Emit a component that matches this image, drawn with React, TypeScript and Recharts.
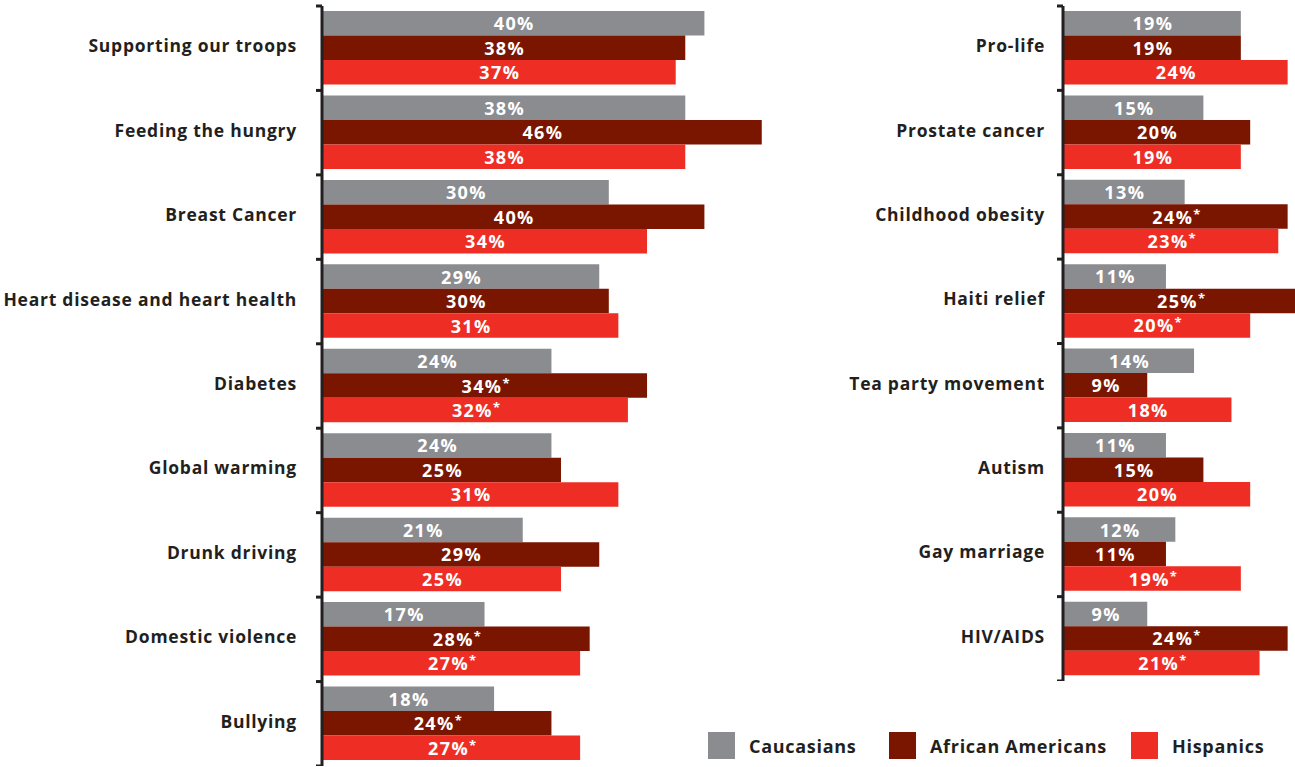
import { Bar, BarChart, LabelList, XAxis, YAxis } from "recharts";

const leftCategories = [
  "Supporting our troops",
  "Feeding the hungry",
  "Breast Cancer",
  "Heart disease and heart health",
  "Diabetes",
  "Global warming",
  "Drunk driving",
  "Domestic violence",
  "Bullying",
];
const leftCaucasians = [40, 38, 30, 29, 24, 24, 21, 17, 18];
const leftAfricanAmericans = [38, 46, 40, 30, 34, 25, 29, 28, 24];
const leftHispanics = [37, 38, 34, 31, 32, 31, 25, 27, 27];
// significant difference markers (*)
const leftAfricanAmericansSig = [false, false, false, false, true, false, false, true, true];
const leftHispanicsSig = [false, false, false, false, true, false, false, true, true];

const rightCategories = [
  "Pro-life",
  "Prostate cancer",
  "Childhood obesity",
  "Haiti relief",
  "Tea party movement",
  "Autism",
  "Gay marriage",
  "HIV/AIDS",
];
const rightCaucasians = [19, 15, 13, 11, 14, 11, 12, 9];
const rightAfricanAmericans = [19, 20, 24, 25, 9, 15, 11, 24];
const rightHispanics = [24, 19, 23, 20, 18, 20, 19, 21];
const rightAfricanAmericansSig = [false, false, true, true, false, false, false, true];
const rightHispanicsSig = [false, false, true, true, false, false, true, true];

const seriesNames = ["Caucasians", "African Americans", "Hispanics"];
const seriesColors = ["#8b8c90", "#7a1500", "#ee2e24"];

const FONT = "'Open Sans', sans-serif";
const DARK = "#231f20";

const buildRows = (
  cats: string[],
  a: number[],
  b: number[],
  c: number[]
) =>
  cats.map((name, i) => ({
    name,
    caucasians: a[i],
    africanAmericans: b[i],
    hispanics: c[i],
  }));

const leftData = buildRows(leftCategories, leftCaucasians, leftAfricanAmericans, leftHispanics);
const rightData = buildRows(rightCategories, rightCaucasians, rightAfricanAmericans, rightHispanics);

const makeTick = (count: number, gap: number) => (props: any) => {
  const { x, y, payload, index } = props;
  const half = payload.offset ?? 42;
  const axisX = x + gap;
  return (
    <g>
      <line x1={axisX - 6} x2={axisX} y1={y - half} y2={y - half} stroke={DARK} strokeWidth={3} />
      {index === count - 1 && (
        <line x1={axisX - 6} x2={axisX} y1={y + half} y2={y + half} stroke={DARK} strokeWidth={3} />
      )}
      <text
        x={x}
        y={y - 3}
        textAnchor="end"
        dominantBaseline="central"
        fontFamily={FONT}
        fontWeight={700}
        fontSize={17.5}
        letterSpacing={0.75}
        fill={DARK}
      >
        {payload.value}
      </text>
    </g>
  );
};

const makeLabel = (sig?: boolean[]) => (props: any) => {
  const { x, y, width, height, value, index } = props;
  const star = sig ? sig[index] : false;
  return (
    <text
      x={x + width / 2 + 1}
      y={y + height / 2}
      textAnchor="middle"
      dominantBaseline="central"
      fontFamily={FONT}
      fontWeight={700}
      fontSize={18}
      letterSpacing={1.4}
      fill="#ffffff"
    >
      {`${value}%`}
      {star && (
        <tspan fontSize={13} dy={-3} letterSpacing={0}>
          *
        </tspan>
      )}
    </text>
  );
};

const Panel = ({
  data,
  width,
  height,
  axisWidth,
  tickGap,
  max,
  aSig,
  hSig,
}: {
  data: any[];
  width: number;
  height: number;
  axisWidth: number;
  tickGap: number;
  max: number;
  aSig: boolean[];
  hSig: boolean[];
}) => (
  <BarChart
    width={width}
    height={height}
    data={data}
    layout="vertical"
    margin={{ top: 6, right: 0, bottom: 0, left: 0 }}
    barGap={0}
    barSize={24.5}
  >
    <XAxis type="number" domain={[0, max]} hide />
    <YAxis
      type="category"
      dataKey="name"
      width={axisWidth}
      axisLine={{ stroke: DARK, strokeWidth: 3 }}
      tickLine={false}
      tickSize={6}
      tickMargin={tickGap - 6}
      interval={0}
      tick={makeTick(data.length, tickGap)}
    />
    <Bar dataKey="caucasians" fill={seriesColors[0]} isAnimationActive={false}>
      <LabelList dataKey="caucasians" content={makeLabel()} />
    </Bar>
    <Bar dataKey="africanAmericans" fill={seriesColors[1]} isAnimationActive={false}>
      <LabelList dataKey="africanAmericans" content={makeLabel(aSig)} />
    </Bar>
    <Bar dataKey="hispanics" fill={seriesColors[2]} isAnimationActive={false}>
      <LabelList dataKey="hispanics" content={makeLabel(hSig)} />
    </Bar>
  </BarChart>
);

const legendX = [708, 889, 1131];

export default function App() {
  return (
    <div
      style={{
        position: "absolute",
        left: 0,
        top: 0,
        width: 1295,
        height: 767,
        overflow: "hidden",
        background: "#ffffff",
      }}
    >
      <div style={{ position: "absolute", left: 0, top: 0 }}>
        <Panel
          data={leftData}
          width={322 + 478}
          height={766}
          axisWidth={322}
          tickGap={25}
          max={50}
          aSig={leftAfricanAmericansSig}
          hSig={leftHispanicsSig}
        />
      </div>
      <div style={{ position: "absolute", left: 780, top: 0 }}>
        <Panel
          data={rightData}
          width={283 + 234}
          height={681}
          axisWidth={283}
          tickGap={18}
          max={25}
          aSig={rightAfricanAmericansSig}
          hSig={rightHispanicsSig}
        />
      </div>
      {seriesNames.map((name, i) => (
        <div
          key={name}
          style={{
            position: "absolute",
            left: legendX[i],
            top: 732,
            display: "flex",
            alignItems: "center",
            fontFamily: FONT,
            fontWeight: 700,
            fontSize: 18,
            letterSpacing: 0.7,
            color: DARK,
          }}
        >
          <span
            style={{
              display: "inline-block",
              width: 27,
              height: 27,
              background: seriesColors[i],
              marginRight: 14,
            }}
          />
          {name}
        </div>
      ))}
    </div>
  );
}
